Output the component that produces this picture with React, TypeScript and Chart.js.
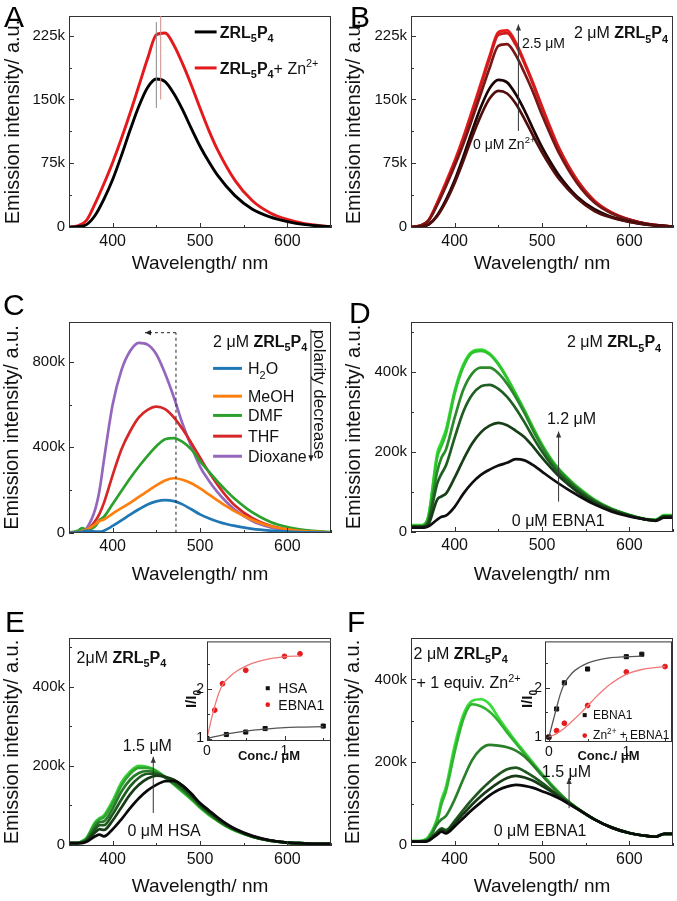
import React, { useEffect, useRef } from 'react';
import { Chart, registerables } from 'chart.js';

Chart.register(...registerables);

const FONT = '"Liberation Sans", Arial, Helvetica, sans-serif';
const INK = '#111';
const FRAME = '#333';

// ---------- wavelength grids (nm) ----------
const WL_AB = [350, 360, 370, 380, 390, 400, 410, 420, 430, 440, 450, 460, 470, 480, 490, 500, 510, 520, 540, 560, 580, 600, 620, 650];
const WL = [350, 360, 365, 370, 380, 385, 390, 400, 410, 420, 430, 440, 450, 460, 470, 480, 490, 500, 510, 520, 530, 540, 560, 580, 600, 620, 630, 640, 650];

// ---------- tick values ----------
const X_TICKS = [400, 500, 600];
const Y_TICKS_AB = [0, 75, 150, 225];
const Y_TICKS_C = [0, 400, 800];
const Y_TICKS_DEF = [0, 200, 400];
const INSET_X_TICKS = [0, 1];
const INSET_Y_TICKS = [1, 2];

// ---------- Panel A (intensity in k a.u.) ----------
const A_ZRL = [0, 0.5, 3, 14, 33, 56, 84, 114, 142, 164, 174, 171, 157, 138, 116, 95, 77, 61, 37, 21, 12, 6.5, 3, 0.5];
const A_ZRL_ZN = [0, 1.5, 8, 28, 51, 76, 104, 134, 166, 198, 226, 228, 214, 192, 167, 140, 114, 91, 55, 31, 17, 9, 4, 0.5];

// ---------- Panel B: Zn2+ titration ----------
const B_ZN_0 = [0, 0.5, 3, 13, 30, 52, 78, 106, 131, 151, 160, 157, 145, 127, 107, 88, 71, 56, 34, 19, 11, 6, 3, 0.5];
const B_ZN_1 = [0, 0.5, 3, 14, 32, 55, 83, 113, 141, 163, 173, 170, 156, 137, 115, 94, 76, 60, 36, 21, 12, 6.5, 3, 0.5];
const B_ZN_2 = [0, 1.5, 7.5, 26, 48, 72, 98, 127, 157, 187, 213, 215, 202, 181, 158, 132, 108, 86, 52, 29, 16, 8.5, 4, 0.5];
const B_ZN_3 = [0, 1.5, 8, 28, 51, 76, 104, 134, 166, 198, 226, 228, 214, 192, 167, 140, 114, 91, 55, 31, 17, 9, 4, 0.5];
const B_ZN_4 = [0, 1.5, 8, 29, 53, 78, 106, 137, 169, 201, 229, 231, 217, 194, 169, 142, 116, 92, 56, 31, 17, 9, 4, 0.5];

// ---------- Panel C: solvents ----------
const C_H2O = [0, 2, 5, 10, 6, 5, 10, 32, 58, 85, 110, 132, 147, 153, 148, 133, 110, 86, 68, 53, 41, 32, 18, 10, 5, 2.5, 2, 1, 0];
const C_MEOH = [0, 3, 8, 15, 40, 55, 62, 90, 115, 140, 168, 195, 222, 245, 255, 248, 232, 208, 180, 152, 125, 100, 60, 32, 16, 7, 5, 3, 1];
const C_DMF = [0, 10, 22, 15, 30, 60, 75, 135, 195, 255, 310, 360, 405, 438, 443, 425, 390, 335, 287, 240, 197, 158, 95, 52, 27, 13, 9, 6, 3];
const C_THF = [0, 2, 4, 10, 55, 90, 140, 270, 390, 475, 540, 575, 590, 578, 540, 485, 420, 352, 285, 225, 172, 128, 68, 34, 16, 7, 5, 3, 1];
const C_DIOX = [0, 2, 5, 20, 110, 200, 340, 600, 760, 850, 888, 880, 835, 745, 635, 510, 405, 310, 245, 190, 145, 108, 55, 26, 12, 5, 3, 1, 0];
const C_NAMES = ['H_{2}O', 'MeOH', 'DMF', 'THF', 'Dioxane'];

// ---------- Panel D: EBNA1 titration ----------
const D_0 = [10, 10, 10, 13, 30, 37, 40, 62, 95, 122, 142, 155, 165, 172, 181, 178, 166, 150, 134, 119, 105, 92, 68, 50, 38, 30, 27, 35, 35];
const D_1 = [12, 12, 12, 18, 80, 88, 95, 135, 180, 220, 248, 265, 272, 266, 252, 236, 212, 185, 160, 137, 118, 100, 72, 53, 40, 30, 28, 38, 38];
const D_2 = [12, 12, 13, 25, 120, 145, 165, 235, 300, 342, 363, 367, 357, 337, 308, 273, 235, 200, 170, 145, 125, 106, 76, 55, 41, 30, 28, 38, 38];
const D_3 = [13, 13, 15, 30, 150, 185, 205, 285, 355, 395, 410, 410, 396, 370, 336, 296, 252, 212, 178, 152, 130, 110, 78, 56, 41, 30, 28, 39, 39];
const D_4 = [15, 15, 17, 38, 185, 215, 245, 345, 412, 447, 452, 443, 418, 383, 343, 302, 258, 217, 182, 154, 132, 112, 79, 56, 41, 30, 29, 40, 40];
const D_5 = [16, 16, 18, 40, 195, 225, 255, 352, 418, 450, 455, 445, 420, 385, 345, 303, 259, 218, 183, 155, 133, 113, 80, 57, 42, 31, 30, 41, 41];

// ---------- Panel E: HSA titration ----------
const E_0 = [5, 5, 5, 8, 22, 26, 22, 40, 65, 93, 118, 138, 152, 161, 162, 150, 130, 106, 88, 70, 54, 41, 23, 12, 6, 4, 3, 3, 3];
const E_1 = [5, 5, 6, 10, 32, 40, 38, 62, 95, 128, 152, 168, 175, 172, 165, 150, 128, 104, 85, 67, 52, 40, 22, 12, 6, 4, 3, 3, 3];
const E_2 = [5, 5, 7, 12, 40, 50, 50, 78, 115, 148, 170, 180, 180, 172, 160, 144, 124, 101, 82, 65, 50, 39, 21, 11, 6, 4, 3, 3, 3];
const E_3 = [5, 5, 8, 14, 48, 58, 60, 92, 135, 165, 182, 187, 182, 170, 156, 140, 120, 98, 80, 63, 49, 38, 21, 11, 6, 4, 3, 3, 3];
const E_4 = [5, 5, 9, 16, 55, 65, 70, 105, 150, 180, 195, 195, 186, 172, 154, 136, 117, 96, 78, 62, 48, 37, 21, 11, 6, 4, 3, 3, 3];
const E_5 = [5, 5, 10, 18, 58, 68, 75, 112, 158, 186, 200, 197, 188, 172, 153, 134, 115, 94, 76, 61, 47, 36, 21, 11, 6, 4, 3, 3, 3];

// ---------- Panel F: EBNA1 titration with Zn2+ ----------
const F_0 = [8, 8, 8, 10, 25, 32, 28, 45, 65, 85, 103, 120, 133, 141, 145, 143, 138, 130, 122, 112, 100, 88, 62, 42, 29, 22, 20, 27, 27];
const F_1 = [8, 8, 8, 11, 28, 36, 32, 52, 75, 98, 118, 135, 150, 162, 167, 163, 155, 143, 130, 116, 102, 88, 62, 42, 29, 22, 20, 27, 27];
const F_2 = [8, 8, 9, 12, 32, 40, 36, 58, 85, 110, 133, 153, 170, 183, 187, 178, 165, 150, 134, 118, 103, 88, 62, 42, 29, 22, 20, 27, 27];
const F_3 = [9, 9, 10, 14, 50, 62, 70, 110, 160, 205, 232, 242, 240, 236, 228, 214, 192, 168, 145, 124, 105, 89, 62, 42, 29, 22, 20, 27, 27];
const F_4 = [9, 9, 11, 18, 58, 100, 130, 225, 305, 340, 335, 322, 300, 272, 246, 220, 195, 170, 146, 124, 105, 89, 62, 42, 29, 22, 20, 27, 27];
const F_5 = [10, 10, 12, 20, 65, 110, 140, 240, 315, 348, 352, 340, 308, 278, 250, 224, 198, 172, 148, 126, 106, 90, 62, 42, 29, 22, 20, 27, 27];

// ---------- Inset E (I/I0 vs conc. µM) ----------
const E_HSA_X = [0, 0.25, 0.5, 0.75, 1.5];
const E_HSA_Y = [1, 1.08, 1.13, 1.2, 1.25];
const E_EBNA_X = [0, 0.1, 0.2, 0.5, 1.0, 1.2];
const E_EBNA_Y = [1, 1.57, 2.1, 2.37, 2.65, 2.7];
const E_HSA_FIT_X = [0, 0.25, 0.5, 0.75, 1.0, 1.25, 1.5];
const E_HSA_FIT_Y = [1, 1.09, 1.15, 1.19, 1.22, 1.23, 1.24];
const E_EBNA_FIT_X = [0, 0.05, 0.1, 0.15, 0.2, 0.3, 0.4, 0.5, 0.6, 0.8, 1.0, 1.2];
const E_EBNA_FIT_Y = [1, 1.35, 1.65, 1.9, 2.08, 2.25, 2.37, 2.45, 2.52, 2.6, 2.64, 2.66];

// ---------- Inset F ----------
const F_EBNA_X = [0, 0.1, 0.2, 0.5, 1.0, 1.2];
const F_EBNA_Y = [1, 1.57, 2.1, 2.38, 2.63, 2.68];
const F_ZN_X = [0, 0.1, 0.2, 0.5, 1.0, 1.5];
const F_ZN_Y = [1, 1.13, 1.28, 1.64, 2.32, 2.43];
const F_EBNA_FIT_X = [0, 0.05, 0.1, 0.15, 0.2, 0.3, 0.4, 0.5, 0.6, 0.8, 1.0, 1.2];
const F_EBNA_FIT_Y = [1, 1.3, 1.6, 1.88, 2.08, 2.3, 2.42, 2.5, 2.55, 2.61, 2.63, 2.64];
const F_ZN_FIT_X = [0, 0.1, 0.2, 0.3, 0.4, 0.5, 0.6, 0.7, 0.8, 1.0, 1.2, 1.5];
const F_ZN_FIT_Y = [1, 1.07, 1.18, 1.32, 1.47, 1.63, 1.8, 1.95, 2.08, 2.27, 2.37, 2.43];

// ---------- helpers ----------
type Box = { x: number; y: number; w: number; h: number };
type Plot = { l: number; t: number; r: number; b: number };
type Ann = {
  kind: 'text' | 'line' | 'marker';
  x?: number; y?: number; x1?: number; y1?: number; x2?: number; y2?: number;
  text?: string; size?: number; rot?: number; align?: 'left' | 'center'; bold?: boolean;
  color?: string; width?: number; dash?: number[]; arrow?: boolean;
  shape?: 'rect' | 'circle'; r?: number; abs?: boolean;
};
type Seg = { t: string; bold: boolean; mode: number };

function parseRich(s: string, bold0 = false): Seg[] {
  const segs: Seg[] = [];
  let bold = bold0;
  let buf = '';
  let i = 0;
  const flush = () => { if (buf) { segs.push({ t: buf, bold, mode: 0 }); buf = ''; } };
  while (i < s.length) {
    const c = s[i];
    if (c === '*') { flush(); bold = !bold; i++; continue; }
    if ((c === '_' || c === '^') && s[i + 1] === '{') {
      flush();
      const end = s.indexOf('}', i);
      segs.push({ t: s.slice(i + 2, end), bold, mode: c === '_' ? 1 : 2 });
      i = end + 1;
      continue;
    }
    buf += c;
    i++;
  }
  flush();
  return segs;
}

function drawRich(ctx: CanvasRenderingContext2D, text: string, x: number, y: number, size: number,
  opt: { align?: 'left' | 'center'; rot?: number; color?: string; bold?: boolean } = {}) {
  const segs = parseRich(text, !!opt.bold);
  const fontOf = (s: Seg) => `${s.bold ? 'bold ' : ''}${s.mode ? size * 0.68 : size}px ${FONT}`;
  let total = 0;
  for (const s of segs) { ctx.font = fontOf(s); total += ctx.measureText(s.t).width; }
  ctx.save();
  ctx.translate(x, y);
  if (opt.rot) ctx.rotate(opt.rot);
  ctx.fillStyle = opt.color || INK;
  ctx.textBaseline = 'alphabetic';
  ctx.textAlign = 'left';
  let cx = opt.align === 'center' ? -total / 2 : 0;
  const base = size * 0.36;
  for (const s of segs) {
    ctx.font = fontOf(s);
    const dy = s.mode === 1 ? size * 0.28 : s.mode === 2 ? -size * 0.42 : 0;
    ctx.fillText(s.t, cx, base + dy);
    cx += ctx.measureText(s.t).width;
  }
  ctx.restore();
}

function drawLine(ctx: CanvasRenderingContext2D, x1: number, y1: number, x2: number, y2: number,
  color: string, width: number, dash?: number[], arrow?: boolean) {
  ctx.save();
  ctx.strokeStyle = color;
  ctx.lineWidth = width;
  ctx.setLineDash(dash || []);
  ctx.beginPath();
  ctx.moveTo(x1, y1);
  ctx.lineTo(x2, y2);
  ctx.stroke();
  if (arrow) {
    ctx.setLineDash([]);
    const a = Math.atan2(y2 - y1, x2 - x1);
    const L = 6, W = 2.6;
    const c = Math.cos(a), s = Math.sin(a);
    ctx.fillStyle = color;
    ctx.beginPath();
    ctx.moveTo(x2, y2);
    ctx.lineTo(x2 - L * c + W * s, y2 - L * s - W * c);
    ctx.lineTo(x2 - L * c - W * s, y2 - L * s + W * c);
    ctx.closePath();
    ctx.fill();
  }
  ctx.restore();
}

function deco(opts: { anns: Ann[]; xMajor: number; yMajor: number; xMinor: number; yMinor: number; white?: boolean }) {
  return {
    id: 'deco',
    beforeDraw(chart: any) {
      if (!opts.white) return;
      const a = chart.chartArea;
      const ctx = chart.ctx;
      ctx.save();
      ctx.fillStyle = '#fff';
      ctx.fillRect(a.left, a.top, a.right - a.left, a.bottom - a.top);
      ctx.restore();
    },
    afterDatasetsDraw(chart: any) {
      const { ctx, chartArea: a, scales } = chart;
      const xs = scales.x, ys = scales.y;
      ctx.save();
      ctx.strokeStyle = FRAME;
      ctx.lineWidth = 1;
      ctx.strokeRect(a.left + 0.5, a.top + 0.5, a.right - a.left - 1, a.bottom - a.top - 1);
      const isMajor = (v: number, step: number) => Math.abs(v / step - Math.round(v / step)) < 1e-6;
      ctx.beginPath();
      for (let v = Math.ceil(xs.min / opts.xMinor - 1e-9) * opts.xMinor; v <= xs.max + 1e-9; v += opts.xMinor) {
        const len = isMajor(v, opts.xMajor) ? 5 : 3;
        const px = Math.round(xs.getPixelForValue(v)) + 0.5;
        ctx.moveTo(px, a.bottom);
        ctx.lineTo(px, a.bottom - len);
      }
      for (let v = Math.ceil(ys.min / opts.yMinor - 1e-9) * opts.yMinor; v <= ys.max + 1e-9; v += opts.yMinor) {
        const len = isMajor(v, opts.yMajor) ? 5 : 3;
        const py = Math.round(ys.getPixelForValue(v)) + 0.5;
        ctx.moveTo(a.left, py);
        ctx.lineTo(a.left + len, py);
      }
      ctx.stroke();
      ctx.restore();
    },
    afterDraw(chart: any) {
      const { ctx, scales } = chart;
      const px = (v: number, abs?: boolean) => (abs ? v : scales.x.getPixelForValue(v));
      const py = (v: number, abs?: boolean) => (abs ? v : scales.y.getPixelForValue(v));
      for (const an of opts.anns) {
        if (an.kind === 'text') {
          drawRich(ctx, an.text || '', px(an.x!, an.abs), py(an.y!, an.abs), an.size || 15,
            { align: an.align, rot: an.rot, color: an.color, bold: an.bold });
        } else if (an.kind === 'line') {
          drawLine(ctx, px(an.x1!, an.abs), py(an.y1!, an.abs), px(an.x2!, an.abs), py(an.y2!, an.abs),
            an.color || '#333', an.width || 1, an.dash, an.arrow);
        } else if (an.kind === 'marker') {
          const cx = px(an.x!, an.abs), cy = py(an.y!, an.abs), r = an.r || 2;
          ctx.save();
          ctx.fillStyle = an.color || '#000';
          if (an.shape === 'rect') ctx.fillRect(cx - r, cy - r, 2 * r, 2 * r);
          else { ctx.beginPath(); ctx.arc(cx, cy, r, 0, Math.PI * 2); ctx.fill(); }
          ctx.restore();
        }
      }
    },
  };
}

const setTicks = (vals: number[]) => (s: any) => { s.ticks = vals.map((value) => ({ value })); };

type Series = { y: number[]; color: string; w?: number };
type SpecPanel = {
  box: Box; plot: Plot; xs: number[]; series: Series[];
  yMin: number; yMax: number; yTicks: number[]; yStep: number; yMinor: number;
  yTitlePad: number; xTitlePad: number; anns: Ann[];
};

function makeSpectrum(canvas: HTMLCanvasElement, p: SpecPanel) {
  const yW = p.plot.l - p.box.x;
  const xH = p.box.y + p.box.h - p.plot.b;
  return new Chart(canvas, {
    type: 'line',
    data: {
      datasets: p.series.map((s) => ({
        data: p.xs.map((x, i) => ({ x, y: s.y[i] })),
        borderColor: s.color,
        backgroundColor: s.color,
        borderWidth: s.w || 2.7,
        pointRadius: 0,
        cubicInterpolationMode: 'monotone' as const,
        fill: false,
      })),
    },
    options: {
      animation: false,
      responsive: false,
      events: [],
      layout: { padding: { left: 0, top: p.plot.t - p.box.y, right: p.box.x + p.box.w - p.plot.r, bottom: 0 } },
      plugins: { legend: { display: false }, tooltip: { enabled: false } },
      scales: {
        x: {
          type: 'linear', min: 350, max: 650,
          afterBuildTicks: setTicks(X_TICKS),
          afterFit: (s: any) => { s.height = xH; },
          grid: { display: false, drawTicks: false },
          border: { display: false },
          ticks: { color: INK, font: { family: FONT, size: 16 }, padding: 4, maxRotation: 0, autoSkip: false },
          title: { display: true, text: 'Wavelength/ nm', color: INK, font: { family: FONT, size: 19 }, padding: { top: 0, bottom: p.xTitlePad } },
        },
        y: {
          type: 'linear', min: p.yMin, max: p.yMax,
          afterBuildTicks: setTicks(p.yTicks),
          afterFit: (s: any) => { s.width = yW; },
          grid: { display: false, drawTicks: false },
          border: { display: false },
          ticks: {
            color: INK, font: { family: FONT, size: 15 }, padding: 4, autoSkip: false,
            callback: (v: any) => (v === 0 ? '0' : `${v}k`),
          },
          title: { display: true, text: 'Emission intensity/ a.u.', color: INK, font: { family: FONT, size: 20 }, padding: { top: p.yTitlePad, bottom: 0 } },
        },
      },
    } as any,
    plugins: [deco({ anns: p.anns, xMajor: 100, xMinor: 50, yMajor: p.yStep, yMinor: p.yMinor })],
  });
}

type InsetPanel = {
  box: Box; plot: Plot;
  xMin: number; xMax: number; yMin: number; yMax: number;
  sets: { x: number[]; y: number[]; color: string; kind: 'rect' | 'circle' | 'fit' }[];
  xTitlePad: number; anns: Ann[];
};

function makeInset(canvas: HTMLCanvasElement, p: InsetPanel) {
  const yW = p.plot.l - p.box.x;
  const xH = p.box.y + p.box.h - p.plot.b;
  return new Chart(canvas, {
    type: 'line',
    data: {
      datasets: p.sets.map((s) => ({
        data: s.x.map((x, i) => ({ x, y: s.y[i] })),
        borderColor: s.color,
        backgroundColor: s.color,
        borderWidth: s.kind === 'fit' ? 1.3 : 1,
        showLine: s.kind === 'fit',
        pointRadius: s.kind === 'fit' ? 0 : s.kind === 'rect' ? 2.9 : 2.4,
        pointStyle: s.kind === 'rect' ? 'rect' : 'circle',
        cubicInterpolationMode: 'monotone' as const,
        fill: false,
      })),
    },
    options: {
      animation: false,
      responsive: false,
      events: [],
      layout: { padding: { left: 0, top: p.plot.t - p.box.y, right: p.box.x + p.box.w - p.plot.r, bottom: 0 } },
      plugins: { legend: { display: false }, tooltip: { enabled: false } },
      scales: {
        x: {
          type: 'linear', min: p.xMin, max: p.xMax,
          afterBuildTicks: setTicks(INSET_X_TICKS),
          afterFit: (s: any) => { s.height = xH; },
          grid: { display: false, drawTicks: false },
          border: { display: false },
          ticks: { color: INK, font: { family: FONT, size: 14 }, padding: 2, maxRotation: 0, autoSkip: false },
          title: { display: true, text: 'Conc./ μM', color: INK, font: { family: FONT, size: 13, weight: 'bold' }, padding: { top: 0, bottom: p.xTitlePad } },
        },
        y: {
          type: 'linear', min: p.yMin, max: p.yMax,
          afterBuildTicks: setTicks(INSET_Y_TICKS),
          afterFit: (s: any) => { s.width = yW; },
          grid: { display: false, drawTicks: false },
          border: { display: false },
          ticks: { color: INK, font: { family: FONT, size: 14 }, padding: 3, autoSkip: false, callback: (v: any) => String(v) },
        },
      },
    } as any,
    plugins: [deco({ anns: p.anns, xMajor: 1, xMinor: 0.5, yMajor: 1, yMinor: 0.5, white: true })],
  });
}

function ChartCanvas({ box, make }: { box: Box; make: (c: HTMLCanvasElement) => Chart }) {
  const ref = useRef<HTMLCanvasElement>(null);
  useEffect(() => {
    const ch = make(ref.current as HTMLCanvasElement);
    return () => ch.destroy();
  }, []);
  return (
    <canvas
      ref={ref}
      width={box.w}
      height={box.h}
      style={{ position: 'absolute', left: box.x, top: box.y, width: box.w, height: box.h }}
    />
  );
}

const ZRL = '*ZRL_{5}P_{4}*';
const letter = (t: string, x: number, y: number): Ann => ({ kind: 'text', text: t, x, y, size: 30, abs: true, color: '#000' });

// ---------- panel specs ----------
const PANEL_A: SpecPanel = {
  box: { x: 0, y: 0, w: 338, h: 290 }, plot: { l: 69, t: 16, r: 331, b: 228 }, xs: WL_AB,
  series: [{ y: A_ZRL, color: '#000000', w: 2.9 }, { y: A_ZRL_ZN, color: '#e3191c', w: 2.9 }],
  yMin: -1, yMax: 248, yTicks: Y_TICKS_AB, yStep: 75, yMinor: 37.5, yTitlePad: 1, xTitlePad: 15,
  anns: [
    letter('A', 4, 16),
    { kind: 'line', x1: 450, y1: 140, x2: 450, y2: 241, color: '#8a8a8a', width: 1 },
    { kind: 'line', x1: 455, y1: 150, x2: 455, y2: 248, color: '#d08a8a', width: 1 },
    { kind: 'line', x1: 494, y1: 229.3, x2: 519, y2: 229.3, color: '#000', width: 3 },
    { kind: 'text', x: 522.6, y: 229.3, text: ZRL, size: 16 },
    { kind: 'line', x1: 494, y1: 187, x2: 519, y2: 187, color: '#e3191c', width: 3 },
    { kind: 'text', x: 522.6, y: 187, text: `${ZRL}+ Zn^{2+}`, size: 16 },
  ],
};

const PANEL_B: SpecPanel = {
  box: { x: 338, y: 0, w: 339, h: 290 }, plot: { l: 411, t: 16, r: 673, b: 228 }, xs: WL_AB,
  series: [
    { y: B_ZN_0, color: '#520d0d' },
    { y: B_ZN_1, color: '#1c0404' },
    { y: B_ZN_2, color: '#7a1616' },
    { y: B_ZN_3, color: '#cf1d1d' },
    { y: B_ZN_4, color: '#ea1c1c' },
  ],
  yMin: -1, yMax: 248, yTicks: Y_TICKS_AB, yStep: 75, yMinor: 37.5, yTitlePad: 4.5, xTitlePad: 15,
  anns: [
    letter('B', 12, 16),
    { kind: 'line', x1: 473, y1: 113, x2: 473, y2: 238, color: '#333', width: 1, arrow: true },
    { kind: 'text', x: 477, y: 216, text: '2.5 μM', size: 14 },
    { kind: 'text', x: 421, y: 98, text: '0 μM Zn^{2+}', size: 14 },
    { kind: 'text', x: 536.5, y: 228.5, text: `2 μM ${ZRL}`, size: 16 },
  ],
};

const C_COLORS = ['#1f77b4', '#ff7f0e', '#2ca02c', '#d62728', '#9467bd'];
const C_LEG_Y = [769, 639, 549, 452, 358];

const PANEL_C: SpecPanel = {
  box: { x: 0, y: 290, w: 338, h: 300 }, plot: { l: 69, t: 322, r: 331, b: 533 }, xs: WL,
  series: [C_H2O, C_MEOH, C_DMF, C_THF, C_DIOX].map((y, i) => ({ y, color: C_COLORS[i] })),
  yMin: -1, yMax: 986, yTicks: Y_TICKS_C, yStep: 400, yMinor: 200, yTitlePad: 0.5, xTitlePad: 3.6,
  anns: [
    letter('C', 3, 14),
    { kind: 'line', x1: 472.5, y1: 0, x2: 472.5, y2: 936, color: '#222', width: 1, dash: [3, 3] },
    { kind: 'line', x1: 472.5, y1: 936, x2: 437, y2: 936, color: '#222', width: 1, dash: [3, 3], arrow: true },
    { kind: 'text', x: 515, y: 896, text: `2 μM ${ZRL}`, size: 16 },
    ...C_NAMES.flatMap((n, i): Ann[] => [
      { kind: 'line', x1: 515, y1: C_LEG_Y[i], x2: 548, y2: C_LEG_Y[i], color: C_COLORS[i], width: 3 },
      { kind: 'text', x: 555, y: C_LEG_Y[i], text: n, size: 16 },
    ]),
    { kind: 'line', x1: 627, y1: 951, x2: 627, y2: 335, color: '#222', width: 1, arrow: true },
    { kind: 'text', x: 638, y: 647, text: 'polarity decrease', size: 17, rot: Math.PI / 2, align: 'center' },
  ],
};

const PANEL_D: SpecPanel = {
  box: { x: 338, y: 290, w: 339, h: 300 }, plot: { l: 411, t: 322, r: 673, b: 532 }, xs: WL,
  series: [
    { y: D_0, color: '#0f0f0f' },
    { y: D_1, color: '#173f17' },
    { y: D_2, color: '#1f5e22' },
    { y: D_3, color: '#2a8a2a' },
    { y: D_4, color: '#2fc42f' },
    { y: D_5, color: '#33e033' },
  ],
  yMin: -1, yMax: 524, yTicks: Y_TICKS_DEF, yStep: 200, yMinor: 100, yTitlePad: 4.5, xTitlePad: 3.6,
  anns: [
    letter('D', 11, 22.5),
    { kind: 'line', x1: 519, y1: 75, x2: 519, y2: 250, color: '#333', width: 1, arrow: true },
    { kind: 'text', x: 505.6, y: 283.5, text: '1.2 μM', size: 16 },
    { kind: 'text', x: 465.4, y: 29, text: '0 μM EBNA1', size: 16 },
    { kind: 'text', x: 528.5, y: 475, text: `2 μM ${ZRL}`, size: 16 },
  ],
};

const PANEL_E: SpecPanel = {
  box: { x: 0, y: 590, w: 338, h: 311 }, plot: { l: 69, t: 638, r: 331, b: 846 }, xs: WL,
  series: [
    { y: E_0, color: '#0a0a0a' },
    { y: E_1, color: '#173c17' },
    { y: E_2, color: '#1f5a1f' },
    { y: E_3, color: '#277a27' },
    { y: E_4, color: '#2fa52f' },
    { y: E_5, color: '#3ad43a' },
  ],
  yMin: -2.5, yMax: 523, yTicks: Y_TICKS_DEF, yStep: 200, yMinor: 100, yTitlePad: 0.5, xTitlePad: 2.9,
  anns: [
    letter('E', 5, 31),
    { kind: 'line', x1: 446.5, y1: 81, x2: 446.5, y2: 223, color: '#333', width: 1, arrow: true },
    { kind: 'text', x: 411.5, y: 252.5, text: '1.5 μM', size: 16 },
    { kind: 'text', x: 417, y: 38, text: '0 μM HSA', size: 16 },
    { kind: 'text', x: 358.6, y: 475.5, text: `2μM ${ZRL}`, size: 16 },
  ],
};

const PANEL_F: SpecPanel = {
  box: { x: 338, y: 590, w: 339, h: 311 }, plot: { l: 411, t: 638, r: 673, b: 846 }, xs: WL,
  series: [
    { y: F_0, color: '#0a0a0a' },
    { y: F_1, color: '#163a16' },
    { y: F_2, color: '#1f571f' },
    { y: F_3, color: '#2a7f2a' },
    { y: F_4, color: '#2fb52f' },
    { y: F_5, color: '#3ade3a' },
  ],
  yMin: -2.4, yMax: 500, yTicks: Y_TICKS_DEF, yStep: 200, yMinor: 100, yTitlePad: 3.7, xTitlePad: 2.9,
  anns: [
    letter('F', 9, 31),
    { kind: 'line', x1: 531, y1: 89, x2: 531, y2: 162, color: '#333', width: 1, arrow: true },
    { kind: 'text', x: 499.8, y: 177, text: '1.5 μM', size: 16 },
    { kind: 'text', x: 444.7, y: 36, text: '0 μM EBNA1', size: 16 },
    { kind: 'text', x: 352.9, y: 463.8, text: `2 μM ${ZRL}`, size: 16 },
    { kind: 'text', x: 356.3, y: 392, text: '+ 1 equiv. Zn^{2+}', size: 16 },
  ],
};

const INSET_E: InsetPanel = {
  box: { x: 175, y: 630, w: 163, h: 140 }, plot: { l: 207, t: 638, r: 331, b: 741 },
  xMin: 0, xMax: 1.6, yMin: 0.95, yMax: 2.95,
  sets: [
    { x: E_HSA_FIT_X, y: E_HSA_FIT_Y, color: '#555555', kind: 'fit' },
    { x: E_EBNA_FIT_X, y: E_EBNA_FIT_Y, color: '#f07878', kind: 'fit' },
    { x: E_HSA_X, y: E_HSA_Y, color: '#111111', kind: 'rect' },
    { x: E_EBNA_X, y: E_EBNA_Y, color: '#e41a1c', kind: 'circle' },
  ],
  xTitlePad: 5.5,
  anns: [
    { kind: 'text', x: 16, y: 69, text: 'I/I_{0}', size: 15, bold: true, rot: -Math.PI / 2, align: 'center', abs: true },
    { kind: 'marker', x: 0.784, y: 2.01, shape: 'rect', color: '#111', r: 2 },
    { kind: 'text', x: 0.92, y: 2.01, text: 'HSA', size: 14 },
    { kind: 'marker', x: 0.784, y: 1.68, shape: 'circle', color: '#e41a1c', r: 2.3 },
    { kind: 'text', x: 0.92, y: 1.68, text: 'EBNA1', size: 14 },
  ],
};

const INSET_F: InsetPanel = {
  box: { x: 505, y: 630, w: 172, h: 140 }, plot: { l: 545, t: 638, r: 673, b: 742 },
  xMin: -0.05, xMax: 1.59, yMin: 0.9, yMax: 2.94,
  sets: [
    { x: F_EBNA_FIT_X, y: F_EBNA_FIT_Y, color: '#555555', kind: 'fit' },
    { x: F_ZN_FIT_X, y: F_ZN_FIT_Y, color: '#f07878', kind: 'fit' },
    { x: F_EBNA_X, y: F_EBNA_Y, color: '#111111', kind: 'rect' },
    { x: F_ZN_X, y: F_ZN_Y, color: '#e41a1c', kind: 'circle' },
  ],
  xTitlePad: 6,
  anns: [
    { kind: 'text', x: 22, y: 69, text: 'I/I_{0}', size: 15, bold: true, rot: -Math.PI / 2, align: 'center', abs: true },
    { kind: 'marker', x: 0.463, y: 1.445, shape: 'rect', color: '#111', r: 2 },
    { kind: 'text', x: 0.571, y: 1.445, text: 'EBNA1', size: 12 },
    { kind: 'marker', x: 0.463, y: 1.03, shape: 'circle', color: '#e41a1c', r: 2.3 },
    { kind: 'text', x: 0.571, y: 1.04, text: 'Zn^{2+} + EBNA1', size: 12 },
  ],
};

export default function App() {
  const specs = [PANEL_A, PANEL_B, PANEL_C, PANEL_D, PANEL_E, PANEL_F];
  return (
    <div style={{ position: 'absolute', left: 0, top: 0, width: 677, height: 901, background: '#fff', overflow: 'hidden' }}>
      {specs.map((p, i) => (
        <ChartCanvas key={i} box={p.box} make={(c) => makeSpectrum(c, p)} />
      ))}
      <ChartCanvas box={INSET_E.box} make={(c) => makeInset(c, INSET_E)} />
      <ChartCanvas box={INSET_F.box} make={(c) => makeInset(c, INSET_F)} />
    </div>
  );
}
